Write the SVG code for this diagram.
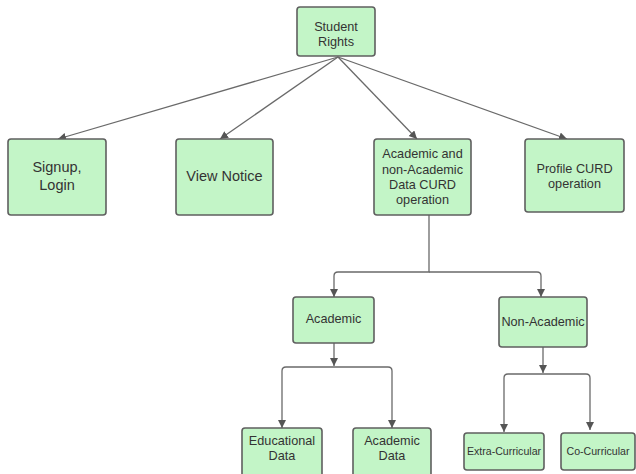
<svg xmlns="http://www.w3.org/2000/svg" width="636" height="474" viewBox="0 0 636 474">
<style>
.box{fill:#c3f5c7;stroke:#5f5f5f;stroke-width:1.6}
.t{font-family:"Liberation Sans",Arial,sans-serif;fill:#333;text-anchor:middle}
.m{font-size:12.7px}
.l{font-size:14.5px}
.s{font-size:10.6px}
.c{fill:none;stroke:#6a6a6a;stroke-width:1.3}
</style>
<defs>
<marker id="ah" markerUnits="userSpaceOnUse" markerWidth="9" markerHeight="9" refX="8" refY="4" orient="auto">
<path d="M0,0 L8,4 L0,8 z" fill="#555"/>
</marker>
</defs>
<rect width="636" height="474" fill="#fff"/>
<g id="connectors">
<path class="c" d="M338,57 L58,139" marker-end="url(#ah)"/>
<path class="c" d="M338,57 L220,139" marker-end="url(#ah)"/>
<path class="c" d="M338,57 L417,139" marker-end="url(#ah)"/>
<path class="c" d="M338,57 L567,139" marker-end="url(#ah)"/>
<path class="c" d="M429,215 V272 H338 Q334,272 334,276 V297" marker-end="url(#ah)"/>
<path class="c" d="M429,272 H537 Q541,272 541,276 V297" marker-end="url(#ah)"/>
<path class="c" d="M334,343 V366" marker-end="url(#ah)"/>
<path class="c" d="M334,367 H286 Q282,367 282,371 V428" marker-end="url(#ah)"/>
<path class="c" d="M334,367 H388 Q392,367 392,371 V428" marker-end="url(#ah)"/>
<path class="c" d="M543,347 V373" marker-end="url(#ah)"/>
<path class="c" d="M543,374 H508 Q504,374 504,378 V432" marker-end="url(#ah)"/>
<path class="c" d="M543,374 H586 Q590,374 590,378 V430" marker-end="url(#ah)"/>
</g>
<g id="student-rights">
<rect class="box" x="297" y="7" width="78" height="49" rx="3"/>
<text class="t m" x="336" y="31">Student</text>
<text class="t m" x="336" y="46">Rights</text>
</g>
<g id="signup">
<rect class="box" x="8" y="139" width="98" height="76" rx="3"/>
<text class="t l" x="57" y="172">Signup,</text>
<text class="t l" x="57" y="190">Login</text>
</g>
<g id="view-notice">
<rect class="box" x="176" y="139" width="97" height="76" rx="3"/>
<text class="t l" x="224.5" y="181">View Notice</text>
</g>
<g id="academic-nonacademic">
<rect class="box" x="374" y="139" width="97" height="76" rx="3"/>
<text class="t m" x="422.5" y="158">Academic and</text>
<text class="t m" x="422.5" y="173.5">non-Academic</text>
<text class="t m" x="422.5" y="189">Data CURD</text>
<text class="t m" x="422.5" y="204">operation</text>
</g>
<g id="profile">
<rect class="box" x="525" y="139" width="99" height="73" rx="3"/>
<text class="t m" x="574.5" y="172.5">Profile CURD</text>
<text class="t m" x="574.5" y="187.5">operation</text>
</g>
<g id="academic">
<rect class="box" x="293" y="297" width="81" height="46" rx="3"/>
<text class="t m" x="333.5" y="322.5">Academic</text>
</g>
<g id="non-academic">
<rect class="box" x="499" y="297" width="88" height="50" rx="3"/>
<text class="t m" x="543" y="326">Non-Academic</text>
</g>
<g id="educational-data">
<rect class="box" x="242" y="428" width="80" height="50" rx="3"/>
<text class="t m" x="282" y="445">Educational</text>
<text class="t m" x="282" y="460">Data</text>
</g>
<g id="academic-data">
<rect class="box" x="353" y="428" width="78" height="50" rx="3"/>
<text class="t m" x="392" y="445">Academic</text>
<text class="t m" x="392" y="460">Data</text>
</g>
<g id="extra-curricular">
<rect class="box" x="464" y="433" width="80" height="37" rx="3"/>
<text class="t s" x="504" y="455">Extra-Curricular</text>
</g>
<g id="co-curricular">
<rect class="box" x="561" y="433" width="74" height="37" rx="3"/>
<text class="t s" x="598" y="455">Co-Curricular</text>
</g>
</svg>
